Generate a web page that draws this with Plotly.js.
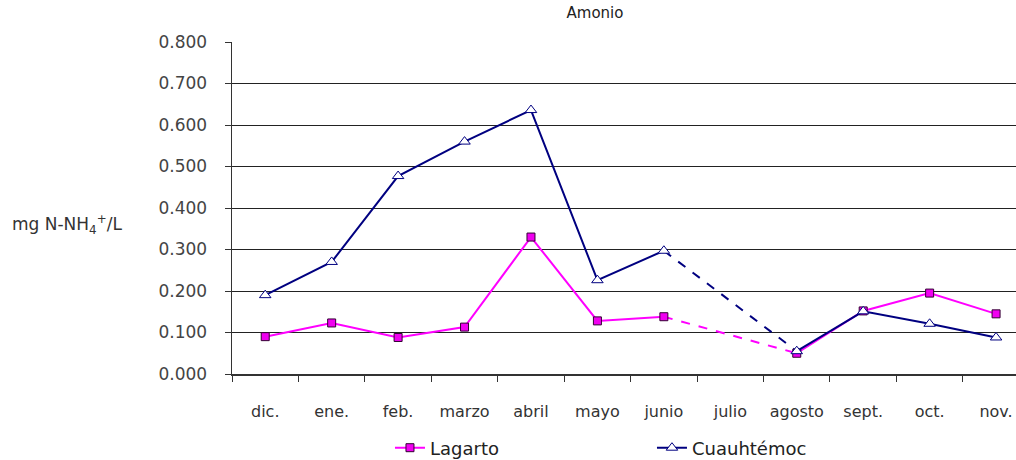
<!DOCTYPE html>
<html><head><meta charset="utf-8">
<script src="https://cdn.plot.ly/plotly-3.0.1.min.js"></script>
<style>body{margin:0;background:#fff}#c{width:1016px;height:460px}</style>
</head><body><div id="c"></div>
<script>
const months = ["dic.","ene.","feb.","marzo","abril","mayo","junio","julio","agosto","sept.","oct.","nov."];
const lagarto = [0.090,0.123,0.088,0.113,0.330,0.128,0.138,null,0.050,0.152,0.195,0.145];
const cuauhtemoc = [0.190,0.270,0.477,0.560,0.636,0.226,0.297,null,0.055,0.151,0.121,0.088];
const gapFrom = "junio", gapTo = "agosto";
const gapIdx = [months.indexOf(gapFrom), months.indexOf(gapTo)];

const magenta = "#FF00FF", navy = "#000080";
const traces = [
  {x:[gapFrom,gapTo], y:gapIdx.map(i=>lagarto[i]), mode:"lines", line:{color:magenta,width:2,dash:"dash"}, showlegend:false, hoverinfo:"skip"},
  {x:[gapFrom,gapTo], y:gapIdx.map(i=>cuauhtemoc[i]), mode:"lines", line:{color:navy,width:2,dash:"dash"}, showlegend:false, hoverinfo:"skip"},
  {name:"Lagarto", x:months, y:lagarto, mode:"lines+markers", connectgaps:false,
   line:{color:magenta,width:2}, marker:{symbol:"square",size:8,color:"#F000F0",line:{color:"#330033",width:1}}},
  {name:"Cuauhtémoc", x:months, y:cuauhtemoc, mode:"lines+markers", connectgaps:false,
   line:{color:navy,width:2}, marker:{symbol:"triangle-up",size:10,color:"#ffffff",line:{color:navy,width:1}}}
];
const layout = {
  width:1016, height:460,
  margin:{l:232, r:0, t:42, b:86},
  paper_bgcolor:"#fff", plot_bgcolor:"#fff",
  font:{family:"DejaVu Sans, Arial, sans-serif", color:"#333", size:17},
  title:{text:"Amonio", font:{size:15,color:"#222"}, xref:"paper", x:0.463, xanchor:"center", yref:"container", y:0.972, yanchor:"middle"},
  xaxis:{type:"category", categoryorder:"array", categoryarray:months, range:[-0.5,11.3],
    showgrid:false, showline:true, linecolor:"#333", linewidth:1.5, zeroline:false, automargin:false,
    ticks:"outside", tickson:"boundaries", ticklen:6, tickcolor:"#333", ticklabelstandoff:22, tickangle:0,
    tickfont:{size:16,color:"#333"}},
  yaxis:{range:[0,0.8], dtick:0.1, tickformat:".3f", showgrid:true, gridcolor:"#222", gridwidth:1,
    showline:true, linecolor:"#333", linewidth:1.5, zeroline:false, automargin:false,
    ticks:"outside", ticklen:6, tickcolor:"#333", ticklabelstandoff:14,
    tickfont:{size:17,color:"#444"}},
  legend:{orientation:"h", x:0.2015, xanchor:"left", yref:"container", y:1-448/460, yanchor:"middle",
    entrywidth:217, entrywidthmode:"pixels", font:{size:18,color:"#222"}, bgcolor:"rgba(0,0,0,0)"},
  annotations:[{text:"mg N-NH<sub>4</sub><sup>+</sup>/L", xref:"paper", yref:"paper",
    x:(10-232)/784, xanchor:"left", y:0.45, yanchor:"middle", showarrow:false, font:{size:17,color:"#333"}}]
};
Plotly.newPlot("c", traces, layout, {displayModeBar:false, staticPlot:true});
</script></body></html>
